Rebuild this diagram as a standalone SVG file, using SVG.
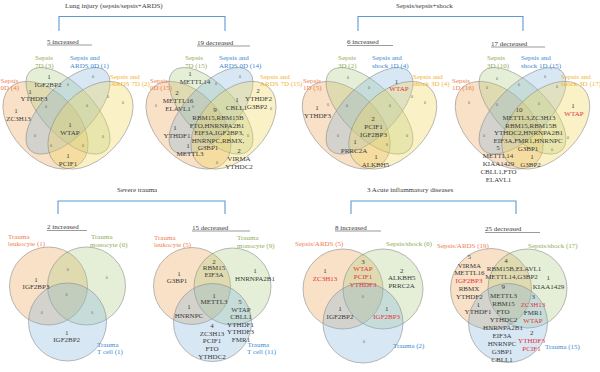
<svg xmlns="http://www.w3.org/2000/svg" width="600" height="372" viewBox="0 0 600 372">
<style>
text{font-family:"Liberation Serif","Times New Roman",serif;font-size:7px;fill:#3a3a3a;text-anchor:middle}
.s{text-anchor:start}
.o{fill:#EE7E50}.g{fill:#8FAD58}.b{fill:#3C8AD0}.y{fill:#F2B431}.r{fill:#E5343B}
.z{font-size:4px;fill:#666}
.e{stroke:#8c8c8c;stroke-width:.6;vector-effect:non-scaling-stroke}
.fo{fill:#E9A456;fill-opacity:.33}.fg{fill:#A9C97C;fill-opacity:.3}.fb{fill:#7EAEDC;fill-opacity:.3}.fy{fill:#F2D75E;fill-opacity:.35}
.br{fill:none;stroke:#5B9BD5;stroke-width:1.1}
.ul{stroke:#555;stroke-width:.6}
</style>
<rect width="600" height="372" fill="#fff"/>

<g id="titles">
<text class="s" x="65" y="7.5">Lung injury (sepsis/sepsis+ARDS)</text>
<text class="s" x="396" y="7.5">Sepsis/sepsis+shock</text>
<text class="s" x="117" y="191.5">Severe trauma</text>
<text class="s" x="367" y="191.5">3 Acute inflammatory diseases</text>
</g>

<g id="connectors">
<path class="br" d="M59,31V16.5H225V31"/>
<path class="br" d="M358,31V16.5H523V31"/>
<path class="br" d="M58,214V201H225V214"/>
<path class="br" d="M351,214V201H516V214"/>
</g>

<g id="headers">
<text class="s" x="47" y="43.5">5 increased</text><line class="ul" x1="47" y1="45" x2="92" y2="45"/>
<text class="s" x="197" y="44.5">19 decreased</text><line class="ul" x1="197" y1="46" x2="250" y2="46"/>
<text class="s" x="347" y="44">6 increased</text><line class="ul" x1="347" y1="45.5" x2="393" y2="45.5"/>
<text class="s" x="491" y="45.5">17 decreased</text><line class="ul" x1="491" y1="47" x2="545" y2="47"/>
<text class="s" x="47" y="229">2 increased</text><line class="ul" x1="47" y1="230.5" x2="87" y2="230.5"/>
<text class="s" x="192" y="229.5">15 decreased</text><line class="ul" x1="192" y1="231" x2="250" y2="231"/>
<text class="s" x="335" y="229.5">8 increased</text><line class="ul" x1="335" y1="231" x2="381" y2="231"/>
<text class="s" x="485" y="231">25 decreased</text><line class="ul" x1="485" y1="232.5" x2="540" y2="232.5"/>
</g>

<!-- Panel 1 -->
<g id="venn-lung-increased">
<g transform="translate(68,118) scale(1,1.03)">
<ellipse id="p1-sepsis0d" class="e fo" cx="-22.5" cy="7" rx="51" ry="32" transform="rotate(45 -22.5 7)"/>
<ellipse id="p1-sepsis7d" class="e fg" cx="0" cy="-7" rx="54" ry="25" transform="rotate(45 0 -7)"/>
<ellipse id="p1-ards0d" class="e fb" cx="0" cy="-7" rx="54" ry="25" transform="rotate(-45 0 -7)"/>
<ellipse id="p1-ards7d" class="e fy" cx="22.5" cy="7" rx="51" ry="32" transform="rotate(-45 22.5 7)"/>
</g>
<text class="s o" x="0.5" y="82.5">Sepsis</text><text class="s o" x="0.5" y="90">0D (4)</text>
<text class="s g" x="35" y="60">Sepsis</text><text class="s g" x="35" y="67.5">7D (3)</text>
<text class="s b" x="70" y="60">Sepsis and</text><text class="s b" x="70" y="67.5">ARDS 0D (1)</text>
<text class="s y" x="110" y="78.5">Sepsis and</text><text class="s y" x="111" y="86">ARDS 7D (2)</text>
<text x="49" y="78.5">1</text><text x="48" y="86.5">IGF2BP2</text>
<text x="30" y="93.5">1</text><text x="34" y="101">YTHDF3</text>
<text x="16" y="112.5">1</text><text x="18.5" y="120.5">ZC3H13</text>
<text x="70" y="126.5">1</text><text x="70" y="134.5">WTAP</text>
<text x="68" y="158">1</text><text x="68" y="166">PCIF1</text>
<text class="z" x="93" y="78.4">0</text><text class="z" x="123" y="104.4">0</text><text class="z" x="68" y="86.4">0</text>
<text class="z" x="108" y="98.4">0</text><text class="z" x="35" y="137.4">0</text><text class="z" x="103" y="138.4">0</text>
<text class="z" x="46" y="108.4">0</text><text class="z" x="87" y="107.4">0</text><text class="z" x="51" y="147.4">0</text>
<text class="z" x="83" y="147.4">0</text>
</g>

<!-- Panel 2 -->
<g id="venn-lung-decreased">
<g transform="translate(211,118) scale(1,1.03)">
<ellipse id="p2-sepsis0d" class="e fo" cx="-22.5" cy="7" rx="51" ry="32" transform="rotate(45 -22.5 7)"/>
<ellipse id="p2-sepsis7d" class="e fg" cx="0" cy="-7" rx="54" ry="25" transform="rotate(45 0 -7)"/>
<ellipse id="p2-ards0d" class="e fb" cx="0" cy="-7" rx="54" ry="25" transform="rotate(-45 0 -7)"/>
<ellipse id="p2-ards7d" class="e fy" cx="22.5" cy="7" rx="51" ry="32" transform="rotate(-45 22.5 7)"/>
</g>
<text class="s o" x="150" y="82.5">Sepsis</text><text class="s o" x="150" y="90">0D (15)</text>
<text class="s g" x="185" y="60">Sepsis</text><text class="s g" x="185" y="67.5">7D (15)</text>
<text class="s b" x="219" y="60">Sepsis and</text><text class="s b" x="219" y="67.5">ARDS 0D (14)</text>
<text class="s y" x="260" y="78.5">Sepsis and</text><text class="s y" x="260" y="86">ARDS 7D (15)</text>
<text x="190" y="75.5">1</text><text x="195" y="83.5">METTL14</text>
<text x="177" y="95">2</text><text x="178" y="103">METTL16</text><text x="178" y="110.5">ELAVL1</text>
<text x="237" y="102">1</text><text x="236.5" y="110">CBLL1</text>
<text x="258" y="92.5">2</text><text x="258.5" y="101">YTHDF2</text><text x="257" y="108.5">G3BP2</text>
<text x="215" y="111.5">9</text>
<text x="218" y="120">RBM15,RBM15B</text>
<text x="217" y="127.5">FTO,HNRNPA2B1</text>
<text x="219" y="135">EIF3A,IGF2BP3,</text>
<text x="218" y="142.5">HNRNPC,RBMX,</text>
<text x="208" y="150">G3BP1</text>
<text x="175" y="130">1</text><text x="177" y="138">YTHDF1</text>
<text x="188" y="148">1</text><text x="190" y="156">METTL3</text>
<text x="239" y="153">2</text><text x="239" y="161">VIRMA</text><text x="239" y="168.5">YTHDC2</text>
<text class="z" x="216" y="85.4">0</text><text class="z" x="240" y="78.4">0</text><text class="z" x="193" y="108.4">0</text>
<text class="z" x="271" y="110.4">0</text><text class="z" x="248" y="137.4">0</text><text class="z" x="217" y="164.4">0</text>
<text class="z" x="156" y="107.4">0</text>
</g>

<!-- Panel 3 -->
<g id="venn-shock-increased">
<g transform="translate(369.5,118) scale(1.034,1.03)">
<ellipse id="p3-sepsis1d" class="e fo" cx="-22.5" cy="7" rx="51" ry="32" transform="rotate(45 -22.5 7)"/>
<ellipse id="p3-sepsis3d" class="e fg" cx="0" cy="-7" rx="54" ry="25" transform="rotate(45 0 -7)"/>
<ellipse id="p3-shock1d" class="e fb" cx="0" cy="-7" rx="54" ry="25" transform="rotate(-45 0 -7)"/>
<ellipse id="p3-shock3d" class="e fy" cx="22.5" cy="7" rx="51" ry="32" transform="rotate(-45 22.5 7)"/>
</g>
<text class="s o" x="303" y="82.5">Sepsis</text><text class="s o" x="303" y="90">1D (5)</text>
<text class="s g" x="338" y="60">Sepsis</text><text class="s g" x="338" y="67.5">3D (2)</text>
<text class="s b" x="372" y="60">Sepsis and</text><text class="s b" x="372" y="67.5">shock 1D (4)</text>
<text class="s y" x="413" y="78.5">Sepsis and</text><text class="s y" x="413" y="86">shock 3D (4)</text>
<text x="396.5" y="83.5">1</text><text class="r" x="399" y="91">WTAP</text>
<text x="317" y="110">1</text><text x="317.5" y="117.5">YTHDF3</text>
<text x="373" y="121">2</text><text x="373.5" y="128.5">PCIF1</text><text x="373.5" y="136.5">IGF2BP3</text>
<text x="355" y="144">1</text><text x="354" y="152.5">PRRC2A</text>
<text x="376" y="159">1</text><text x="375.5" y="166.5">ALKBH5</text>
<text class="z" x="348" y="79.4">0</text><text class="z" x="369" y="89.4">0</text><text class="z" x="328" y="106.4">0</text>
<text class="z" x="347" y="107.4">0</text><text class="z" x="390" y="107.4">0</text><text class="z" x="425" y="104.4">0</text>
<text class="z" x="412" y="98.4">0</text><text class="z" x="338" y="137.4">0</text><text class="z" x="407" y="137.4">0</text>
<text class="z" x="387" y="146.4">0</text>
</g>

<!-- Panel 4 -->
<g id="venn-shock-decreased">
<g transform="translate(522.5,118) scale(1.034,1.03)">
<ellipse id="p4-sepsis1d" class="e fo" cx="-22.5" cy="7" rx="51" ry="32" transform="rotate(45 -22.5 7)"/>
<ellipse id="p4-sepsis3d" class="e fg" cx="0" cy="-7" rx="54" ry="25" transform="rotate(45 0 -7)"/>
<ellipse id="p4-shock1d" class="e fb" cx="0" cy="-7" rx="54" ry="25" transform="rotate(-45 0 -7)"/>
<ellipse id="p4-shock3d" class="e fy" cx="22.5" cy="7" rx="51" ry="32" transform="rotate(-45 22.5 7)"/>
</g>
<text class="s o" x="452" y="82.5">Sepsis</text><text class="s o" x="452" y="90">1D (16)</text>
<text class="s g" x="487" y="60">Sepsis</text><text class="s g" x="487" y="67.5">3D (10)</text>
<text class="s b" x="521" y="60">Sepsis and</text><text class="s b" x="521" y="67.5">shock 1D (15)</text>
<text class="s y" x="561" y="78.5">Sepsis and</text><text class="s y" x="561" y="86">shock 3D (17)</text>
<text x="573" y="107.5">1</text><text class="r" x="574" y="115.5">WTAP</text>
<text x="519" y="111.5">10</text>
<text x="529" y="120">METTL3,ZC3H13</text>
<text x="531" y="127.5">RBM15,RBM15B</text>
<text x="528.5" y="135">YTHDC2,HNRNPA2B1</text>
<text x="528" y="143">EIF3A,FMR1,HNRNPC</text>
<text x="528" y="151">G3BP1</text>
<text x="532" y="159">1</text><text x="530.5" y="166.5">G3BP2</text>
<text x="498" y="150">5</text>
<text x="498" y="158">METTL14</text>
<text x="498.5" y="166">KIAA1429</text>
<text x="498.5" y="174">CBLL1,FTO</text>
<text x="498.5" y="182">ELAVL1</text>
<text class="z" x="469" y="104.4">0</text><text class="z" x="497" y="80.4">0</text><text class="z" x="545" y="78.4">0</text>
<text class="z" x="487" y="89.4">0</text><text class="z" x="519" y="86.4">0</text><text class="z" x="557" y="88.4">0</text>
<text class="z" x="497" y="106.4">0</text><text class="z" x="539" y="105.4">0</text><text class="z" x="484" y="137.4">0</text>
<text class="z" x="568" y="139">0</text><text class="z" x="552" y="151">0</text>
</g>

<!-- Panel 5 -->
<g id="venn-trauma-increased">
<circle id="p5-leukocyte" class="e fo" cx="48.5" cy="286" r="39"/>
<circle id="p5-monocyte" class="e fg" cx="86.5" cy="286" r="39"/>
<circle id="p5-tcell" class="e fb" cx="67.5" cy="322" r="39"/>
<text class="s o" x="8" y="239">Trauma</text><text class="s o" x="8" y="246">leukocyte (1)</text>
<text class="s g" x="91" y="239">Trauma</text><text class="s g" x="90" y="246.5">monocyte (0)</text>
<text class="s b" x="97" y="347">Trauma</text><text class="s b" x="97" y="354">T cell (1)</text>
<text x="36" y="281.5">1</text><text x="36" y="289">IGF2BP3</text>
<text x="66.7" y="335">1</text><text x="66.7" y="342">IGF2BP2</text>
<text class="z" x="67.7" y="270.7">0</text><text class="z" x="66.5" y="295.7">0</text>
<text class="z" x="41.7" y="313.7">0</text><text class="z" x="92.3" y="313.7">0</text>
<text class="z" x="106.7" y="278.7">0</text>
</g>

<!-- Panel 6 -->
<g id="venn-trauma-decreased">
<circle id="p6-leukocyte" class="e fo" cx="192" cy="286" r="38.5"/>
<circle id="p6-monocyte" class="e fg" cx="232.5" cy="286.5" r="38.5"/>
<circle id="p6-tcell" class="e fb" cx="212.5" cy="322.5" r="39"/>
<text class="s o" x="154" y="239.5">Trauma</text><text class="s o" x="154" y="246.5">leukocyte (5)</text>
<text class="s g" x="237" y="240">Trauma</text><text class="s g" x="237" y="247.5">monocyte (9)</text>
<text class="s b" x="247.5" y="346.5">Trauma</text><text class="s b" x="247" y="354">T cell (11)</text>
<text x="179" y="276">1</text><text x="177" y="282.5">G3BP1</text>
<text x="214" y="263.5">2</text><text x="214" y="270">RBM15</text><text x="214" y="277">EIF3A</text>
<text x="255" y="272.5">1</text><text x="255" y="281">HNRNPA2B1</text>
<text x="214" y="297.5">1</text><text x="214" y="304">METTL3</text>
<text x="189" y="309">1</text><text x="189" y="317.5">HNRNPC</text>
<text x="240" y="304">5</text><text x="241" y="312">WTAP</text><text x="241" y="318.5">CBLL1</text>
<text x="240.5" y="326.5">YTHDF1</text><text x="240.5" y="334">YTHDF3</text><text x="241" y="342">FMR1</text>
<text x="212" y="327.5">4</text><text x="212" y="336">ZC3H13</text><text x="212" y="343">PCIF1</text>
<text x="212" y="351">FTO</text><text x="212" y="358.5">YTHDC2</text>
</g>

<!-- Panel 7 -->
<g id="venn-acute-increased">
<circle id="p7-ards" class="e fo" cx="343" cy="289" r="40"/>
<circle id="p7-shock" class="e fg" cx="383" cy="289" r="40"/>
<circle id="p7-trauma" class="e fb" cx="363" cy="323" r="40"/>
<text class="s o" x="295" y="246">Sepsis/ARDS (5)</text>
<text class="s g" x="386" y="246">Sepsis/shock (6)</text>
<text class="s b" x="393" y="348">Trauma (2)</text>
<text x="325" y="272.5">1</text><text class="r" x="325" y="281">ZC3H13</text>
<text x="363" y="263.5">3</text><text class="r" x="363" y="271">WTAP</text><text class="r" x="363" y="279">PCIF1</text><text class="r" x="363" y="286.5">YTHDF3</text>
<text x="401.7" y="272.5">2</text><text x="401.7" y="280">ALKBH5</text><text x="401.7" y="287.5">PRRC2A</text>
<text x="340" y="311">1</text><text x="340" y="319">IGF2BP2</text>
<text x="386.7" y="311">1</text><text class="r" x="386.7" y="319">IGF2BP3</text>
<text class="z" x="362.7" y="298.1">0</text><text class="z" x="364" y="343.1">0</text>
</g>

<!-- Panel 8 -->
<g id="venn-acute-decreased">
<circle id="p8-ards" class="e fo" cx="491" cy="289" r="40.5"/>
<circle id="p8-shock" class="e fg" cx="527.5" cy="288.5" r="39.5"/>
<circle id="p8-trauma" class="e fb" cx="508" cy="323" r="39.5"/>
<text class="s o" x="437" y="247.5">Sepsis/ARDS (19)</text>
<text class="s g" x="528" y="247.5">Sepsis/shock (17)</text>
<text class="s b" x="545" y="349">Trauma (15)</text>
<text x="469.3" y="259">5</text><text x="469.3" y="267.5">VIRMA</text><text x="469.3" y="275">METTL16</text>
<text class="r" x="469" y="282.5">IGF2BP3</text><text x="469" y="291">RBMX</text><text x="469.3" y="299">YTHDF2</text>
<text x="506" y="262.5">4</text><text x="514" y="271">RBM15B,ELAVL1</text><text x="511.5" y="279">METTL14,G3BP2</text>
<text x="548.3" y="280">1</text><text x="548.5" y="288.5">KIAA1429</text>
<text x="503.3" y="289">9</text><text x="503.5" y="297.5">METTL3</text><text x="503.5" y="306">RBM15</text>
<text x="503" y="314">FTO</text><text x="503.5" y="322">YTHDC2</text>
<text x="478.3" y="306.5">1</text><text x="478" y="314">YTHDF1</text>
<text x="533.3" y="299">3</text><text class="r" x="533" y="307">ZC3H13</text><text x="533" y="315">FMR1</text><text class="r" x="533" y="323">WTAP</text>
<text x="503" y="330">HNRNPA2B1</text><text x="502" y="338">EIF3A</text><text x="502" y="346">HNRNPC</text>
<text x="502" y="354">G3BP1</text><text x="502" y="362">CBLL1</text>
<text x="531.7" y="335">2</text><text class="r" x="531.5" y="343">YTHDF3</text><text class="r" x="531.5" y="351">PCIF1</text>
</g>
</svg>
